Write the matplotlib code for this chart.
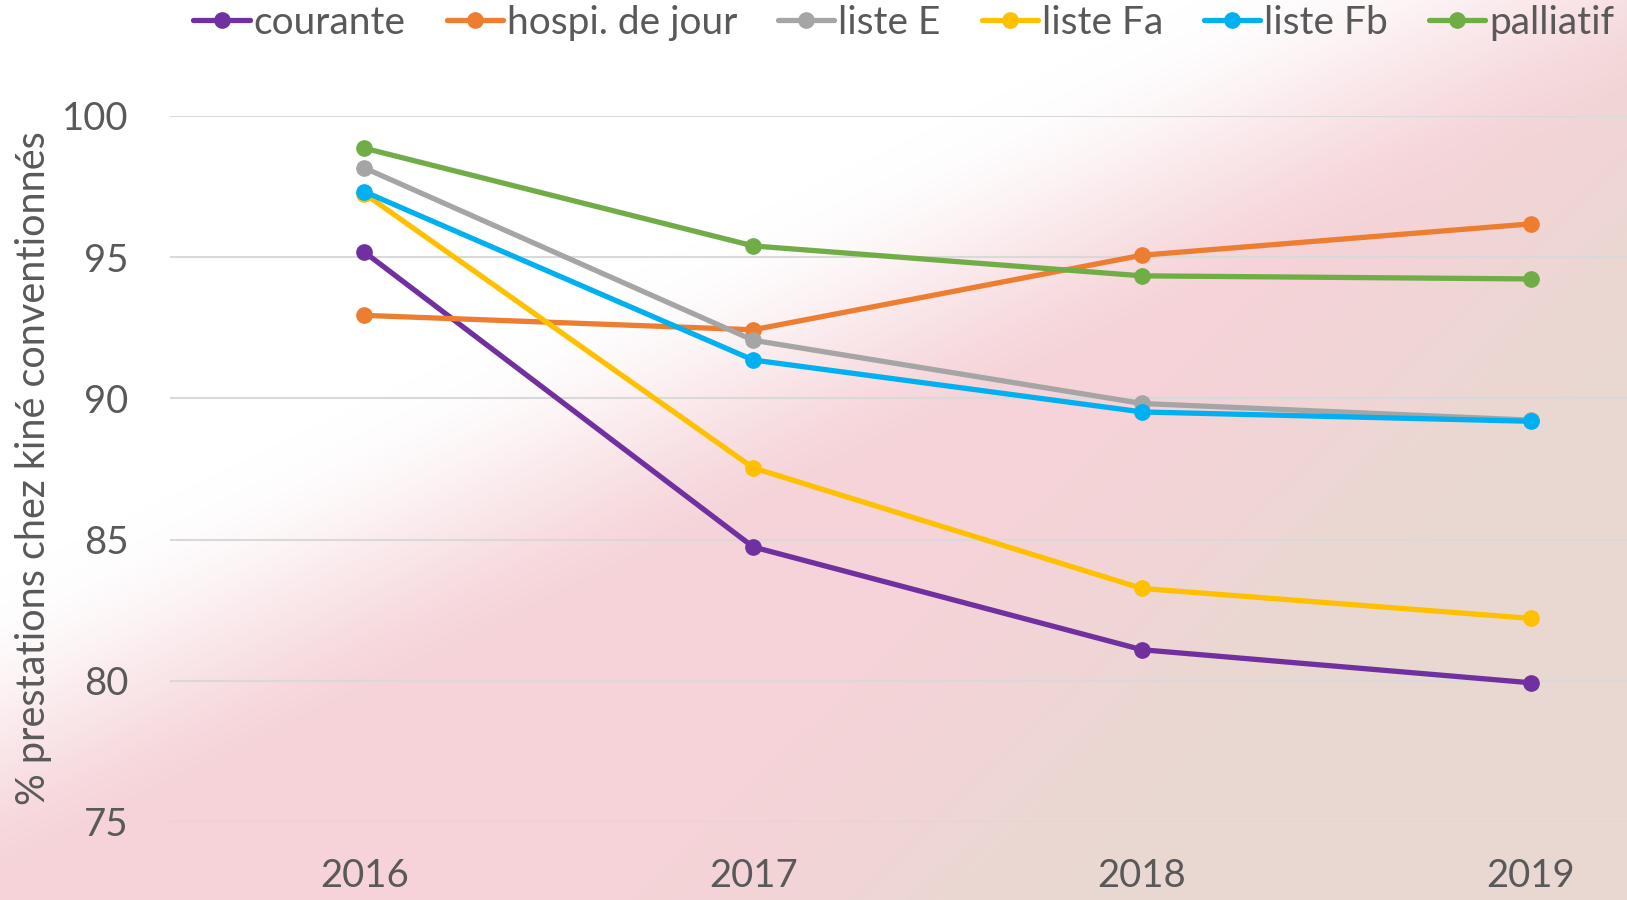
import numpy as np
import matplotlib
matplotlib.use("Agg")
import matplotlib.pyplot as plt

years = ["2016", "2017", "2018", "2019"]
courante = [95.18, 84.74, 81.10, 79.93]
hospi_de_jour = [92.94, 92.43, 95.07, 96.18]
liste_e = [98.16, 92.06, 89.82, 89.23]
liste_fa = [97.25, 87.54, 83.27, 82.21]
liste_fb = [97.32, 91.36, 89.52, 89.19]
palliatif = [98.86, 95.40, 94.34, 94.23]

series_names = ["courante", "hospi. de jour", "liste E", "liste Fa", "liste Fb", "palliatif"]
series_values = [courante, hospi_de_jour, liste_e, liste_fa, liste_fb, palliatif]
series_colors = ["#7030A0", "#ED7D31", "#A5A5A5", "#FFC000", "#00B0F0", "#70AD47"]

yticks = [75, 80, 85, 90, 95, 100]
ylabel = "% prestations chez kiné conventionnés"

plt.rcParams['font.family'] = ['Lato', 'DejaVu Sans']
TXT = "#595959"

W, H = 1627, 900
fig = plt.figure(figsize=(W / 100, H / 100), dpi=100)

# background gradient
yy, xx = np.mgrid[0:H, 0:W].astype(float)

def smooth(v, a, b):
    t = np.clip((v - a) / (b - a), 0, 1)
    return t * t * (3 - 2 * t)

d = 0.435 * xx + 0.901 * yy - 670.0
p = smooth(d, -150, 140)
e = 0.694 * xx + 0.720 * yy
bz = smooth(e, 1050, 1400) * 0.8
white = np.array([1.0, 1.0, 1.0])
pink = np.array([0.962, 0.828, 0.848])
beige = np.array([0.905, 0.852, 0.815])
col_pb = pink[None, None, :] * (1 - bz[..., None]) + beige[None, None, :] * bz[..., None]
img = white[None, None, :] * (1 - p[..., None]) + col_pb * p[..., None]
bg = fig.add_axes([0, 0, 1, 1], zorder=0)
bg.imshow(img, extent=[0, W, H, 0], aspect='auto', interpolation='bilinear')
bg.set_xlim(0, W)
bg.set_ylim(H, 0)
bg.axis('off')

ax = fig.add_axes([170 / W, 1 - 822 / H, 1 - 170 / W, (822 - 116) / H], zorder=1)
ax.set_facecolor('none')
x = np.arange(len(years))
for name, vals, c in zip(series_names, series_values, series_colors):
    ax.plot(x, vals, color=c, lw=3.8, marker='o', markersize=11,
            label=name, solid_capstyle='round', clip_on=False)

ax.set_xlim(-0.5, -0.5 + (W - 170) / 388.8)
ax.set_ylim(75, 100)
ax.set_yticks(yticks)
ax.set_xticks(x)
ax.set_xticklabels(years)
ax.grid(axis='y', color='#D9D9D9', lw=1.5)
ax.set_axisbelow(True)
for s in ax.spines.values():
    s.set_visible(False)
ax.tick_params(axis='both', length=0, labelsize=27.5, colors=TXT)
ax.tick_params(axis='y', pad=30)
ax.tick_params(axis='x', pad=26)

fig.text(34 / W, 1 - 468 / H, ylabel, rotation=90, ha='center', va='center',
         fontsize=28.5, color=TXT)

leg = fig.legend(loc='center', bbox_to_anchor=(0.5555, 1 - 23 / H), ncol=6,
                 frameon=False, fontsize=28, handlelength=1.45, handletextpad=0.1,
                 columnspacing=1.05, borderaxespad=0)
for t in leg.get_texts():
    t.set_color(TXT)

fig.savefig("out.png", dpi=100)
